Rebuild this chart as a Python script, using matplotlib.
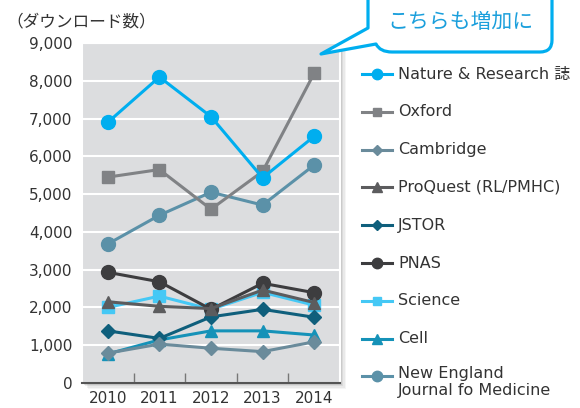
import numpy as np
import matplotlib
matplotlib.use("Agg")
import matplotlib.pyplot as plt
from matplotlib.patches import Rectangle, PathPatch
from matplotlib.path import Path
from matplotlib.lines import Line2D

plt.rcParams['font.family'] = ['DejaVu Sans', 'Noto Sans CJK JP']

# データ
years = ["2010", "2011", "2012", "2013", "2014"]
series_names = ["Nature & Research 誌", "Oxford", "Cambridge", "ProQuest (RL/PMHC)",
                "JSTOR", "PNAS", "Science", "Cell", "New England\nJournal fo Medicine"]
nature = [6900, 8100, 7050, 5430, 6530]
oxford = [5450, 5650, 4600, 5600, 8200]
cambridge = [790, 1030, 920, 830, 1090]
proquest = [2150, 2030, 1970, 2460, 2130]
jstor = [1380, 1180, 1750, 1950, 1740]
pnas = [2930, 2680, 1950, 2640, 2390]
science = [2000, 2300, 1950, 2400, 2060]
cell = [770, 1140, 1380, 1380, 1270]
nejm = [3680, 4440, 5050, 4710, 5770]
y_ticks = [0, 1000, 2000, 3000, 4000, 5000, 6000, 7000, 8000, 9000]

all_values = [nature, oxford, cambridge, proquest, jstor, pnas, science, cell, nejm]
colors = ['#00aeef', '#808285', '#6a8b9b', '#5c5c5e', '#0f5f7c',
          '#3d3d3f', '#45c8f5', '#1592b8', '#5b91a8']
markers = ['o', 's', 'D', '^', 'D', 'o', 's', '^', 'o']
msizes = [10, 8.5, 7, 9, 7, 10, 8.5, 9, 10]

fig = plt.figure(figsize=(5.8, 4.08), dpi=100)

# 影用の背景
bg = fig.add_axes([0, 0, 1, 1], zorder=0)
bg.set_xlim(0, 580)
bg.set_ylim(408, 0)
bg.axis('off')
for i, a in enumerate([0.08, 0.10, 0.14, 0.20]):
    off = 6 - i * 1.5
    bg.add_patch(Rectangle((82 + off, 43 + off), 258, 340, facecolor='#808080',
                           alpha=a, edgecolor='none'))

ax = fig.add_axes([82 / 580, 25 / 408, 258 / 580, 340 / 408], zorder=1)
ax.set_facecolor('#dcdddf')
x = np.arange(len(years))
# 凡例の上の系列ほど前面に
for i in reversed(range(len(all_values))):
    ax.plot(x, all_values[i], color=colors[i], marker=markers[i], markersize=msizes[i],
            linewidth=2.2, zorder=10 + (len(all_values) - i))

ax.set_xlim(-0.5, 4.5)
ax.set_ylim(0, 9000)
ax.set_yticks(y_ticks)
ax.set_yticklabels([f"{v:,}" for v in y_ticks], fontsize=11, color='#333333')
ax.set_xticks(x)
ax.set_xticklabels(years, fontsize=11, color='#333333')
ax.set_xticks([0.5, 1.5, 2.5, 3.5], minor=True)
ax.tick_params(axis='x', which='major', length=0, pad=6)
ax.tick_params(axis='x', which='minor', direction='in', length=7, width=1, color='#777777')
ax.tick_params(axis='y', length=0, pad=7)
ax.grid(axis='y', color='white', linewidth=1.5)
ax.set_axisbelow(True)
for s in ['left', 'top', 'right']:
    ax.spines[s].set_color('white')
    ax.spines[s].set_linewidth(1.5)
ax.spines['bottom'].set_color('#555555')
ax.spines['bottom'].set_linewidth(1.5)

# ピクセル座標のオーバーレイ
ov = fig.add_axes([0, 0, 1, 1], zorder=20)
ov.set_xlim(0, 580)
ov.set_ylim(408, 0)
ov.axis('off')

ov.text(6, 21, "（ダウンロード数）", fontsize=12, color='#333333', va='center', ha='left')

# 凡例
for i, name in enumerate(series_names):
    yy = 74 + i * 37.8
    ov.add_line(Line2D([362, 392], [yy, yy], color=colors[i], linewidth=2.2))
    ov.add_line(Line2D([377], [yy], color=colors[i], marker=markers[i],
                       markersize=msizes[i] * 0.75, linestyle='none'))
    if "\n" in name:
        ov.text(398, yy - 10, name, fontsize=11.5, color='#333333', va='top', ha='left',
                linespacing=1.1)
    else:
        ov.text(398, yy, name, fontsize=11.5, color='#333333', va='center', ha='left')

# 吹き出し
verts = [(368, -10), (368, 28), (321, 54), (376, 44),
         (380, 52), (392, 52),
         (540, 52), (552, 52), (552, 40),
         (552, -10), (368, -10)]
codes = [Path.MOVETO, Path.LINETO, Path.LINETO, Path.LINETO,
         Path.CURVE3, Path.CURVE3,
         Path.LINETO, Path.CURVE3, Path.CURVE3,
         Path.LINETO, Path.CLOSEPOLY]
ov.add_patch(PathPatch(Path(verts, codes), facecolor='white', edgecolor='#00aeef',
                       linewidth=2.3, joinstyle='round'))
ov.text(460, 22, "こちらも増加に", fontsize=15, color='#1a9fdc', ha='center', va='center')

fig.savefig("out.png", dpi=100)
